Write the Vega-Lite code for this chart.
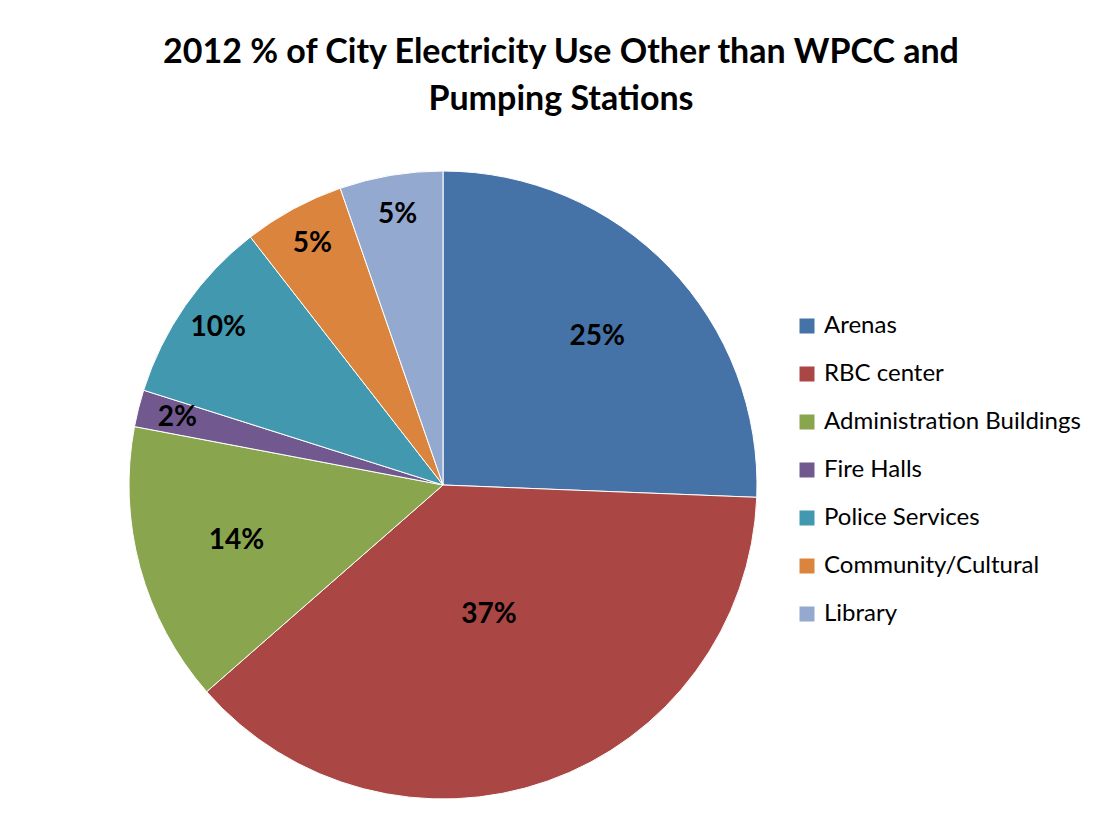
{
  "$schema": "https://vega.github.io/schema/vega-lite/v6.json",
  "autosize": {"type": "none"},
  "width": 886,
  "height": 658,
  "padding": {"left": 0, "top": 156, "right": 220, "bottom": 0},
  "background": "white",
  "config": {"view": {"stroke": null}, "font": "Lato"},
  "title": {
    "text": ["2012 % of City Electricity Use Other than WPCC and", "Pumping Stations"],
    "font": "Lato",
    "fontSize": 34,
    "fontWeight": "bold",
    "color": "#000000",
    "anchor": "middle",
    "dx": 118,
    "offset": 39,
    "lineHeight": 47
  },
  "data": {
    "values": [
      {"rank": 1, "category": "Arenas", "value": 25.6, "label": "25%"},
      {"rank": 2, "category": "RBC center", "value": 37.9, "label": "37%"},
      {"rank": 3, "category": "Administration Buildings", "value": 14.4, "label": "14%"},
      {"rank": 4, "category": "Fire Halls", "value": 1.9, "label": "2%"},
      {"rank": 5, "category": "Police Services", "value": 9.6, "label": "10%"},
      {"rank": 6, "category": "Community/Cultural", "value": 5.2, "label": "5%"},
      {"rank": 7, "category": "Library", "value": 5.3, "label": "5%"}
    ]
  },
  "encoding": {
    "theta": {"field": "value", "type": "quantitative", "stack": true},
    "order": {"field": "rank", "type": "quantitative"}
  },
  "layer": [
    {
      "mark": {"type": "arc", "outerRadius": 314, "stroke": "white", "strokeWidth": 1},
      "encoding": {
        "color": {
          "field": "category",
          "type": "nominal",
          "sort": null,
          "scale": {
            "domain": ["Arenas", "RBC center", "Administration Buildings", "Fire Halls", "Police Services", "Community/Cultural", "Library"],
            "range": ["#4572A7", "#AA4643", "#89A54E", "#71588F", "#4198AF", "#DB843D", "#93A9CF"]
          },
          "legend": {
            "title": null,
            "orient": "none",
            "legendX": 795,
            "legendY": 158,
            "symbolType": "square",
            "symbolSize": 225,
            "symbolStrokeWidth": 0,
            "labelFont": "Lato",
            "labelFontSize": 24,
            "labelLimit": 320,
            "labelColor": "#000000",
            "labelOffset": 5,
            "rowPadding": 24
          }
        }
      }
    },
    {
      "mark": {"type": "text", "radius": 214, "fontSize": 28, "fontWeight": "bold", "font": "Lato", "color": "#000000"},
      "encoding": {
        "text": {"condition": {"test": "datum.value > 12 && datum.value < 30", "field": "label"}, "value": ""}
      }
    },
    {
      "mark": {"type": "text", "radius": 138, "fontSize": 28, "fontWeight": "bold", "font": "Lato", "color": "#000000"},
      "encoding": {
        "text": {"condition": {"test": "datum.value >= 30", "field": "label"}, "value": ""}
      }
    },
    {
      "mark": {"type": "text", "radius": 274, "fontSize": 28, "fontWeight": "bold", "font": "Lato", "color": "#000000"},
      "encoding": {
        "text": {"condition": {"test": "datum.value <= 12", "field": "label"}, "value": ""}
      }
    }
  ]
}
